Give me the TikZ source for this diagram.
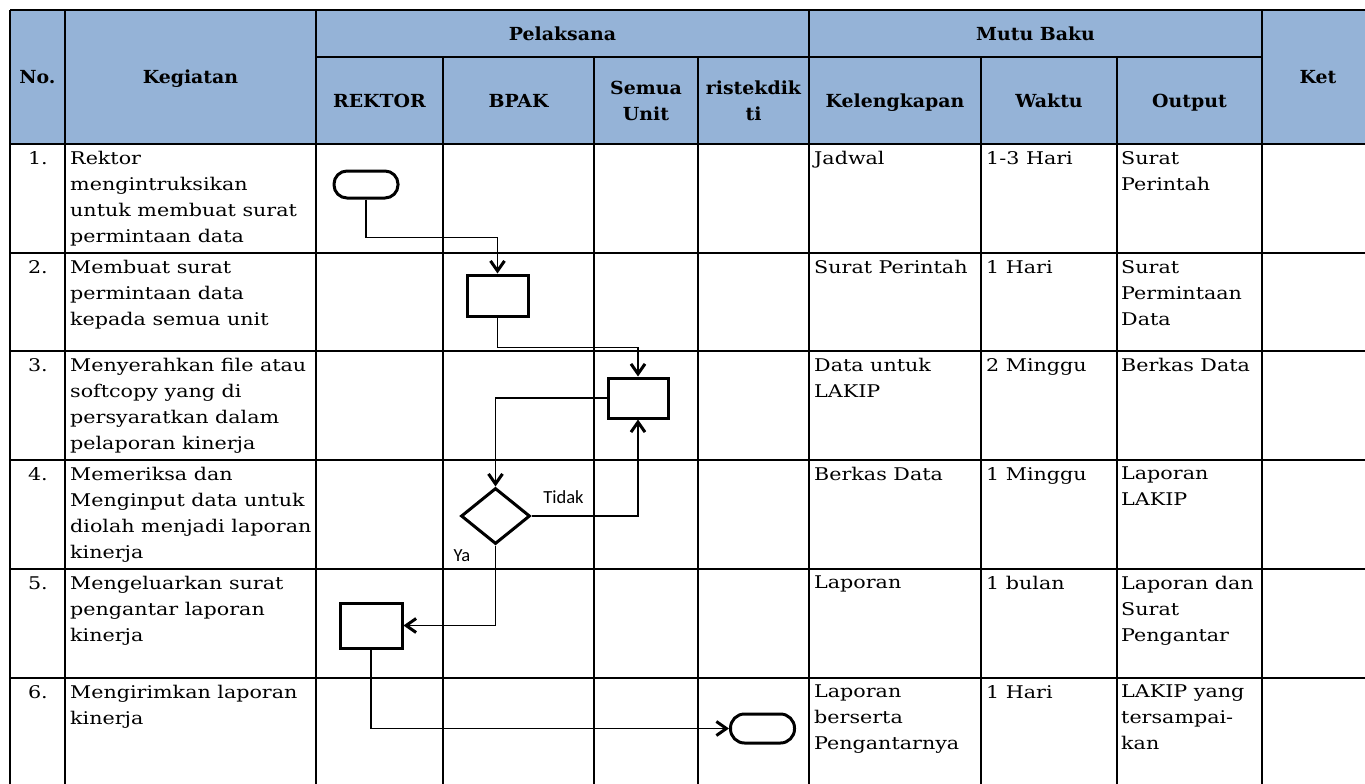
\documentclass[tikz,border=0pt]{standalone}
\usepackage{fontspec}
\setmainfont[FakeStretch=1.18,BoldFeatures={FakeStretch=1.05}]{DejaVu Serif}
\newfontfamily\labelfont{Carlito}
\usetikzlibrary{shapes.geometric,arrows.meta}
\definecolor{headblue}{RGB}{149,179,215}

\begin{document}
\begin{tikzpicture}[x=1pt,y=-1pt,
  grid/.style={line width=1.7pt},
  head/.style={font=\bfseries\fontsize{18}{26}\selectfont,align=center,anchor=base,inner sep=0pt},
  cell/.style={font=\fontsize{17.5}{26}\selectfont,align=left,anchor=north west,inner sep=0pt},
  num/.style={font=\fontsize{17.5}{26}\selectfont,anchor=base east,inner sep=0pt},
  term/.style={draw,line width=3pt,rectangle,rounded corners=13pt,minimum width=64pt,minimum height=27pt,inner sep=0pt},
  act/.style={draw,line width=3pt,rectangle,minimum width=61pt,minimum height=41pt,inner sep=0pt},
  cond/.style={draw,line width=3pt,diamond,minimum width=69pt,minimum height=56pt,inner sep=0pt},
  flow/.style={line width=1.4pt,-{Straight Barb[length=10pt,width=14pt,line width=3pt]}},
  lbl/.style={font=\labelfont\fontsize{18.5}{20}\selectfont,inner sep=0pt}]
\useasboundingbox (0,0) rectangle (1365,784);
\clip (0,0) rectangle (1365,784);

% kepala tabel
\path[fill=headblue] (10,10) rectangle (1380,144);
\path[draw,grid] (10,10) -- (1380,10);
\path[draw,grid] (316,57) -- (1262,57);
\path[draw,grid] (10,144) -- (1380,144);
\path[draw,grid] (10,253) -- (1380,253);
\path[draw,grid] (10,351) -- (1380,351);
\path[draw,grid] (10,460) -- (1380,460);
\path[draw,grid] (10,569) -- (1380,569);
\path[draw,grid] (10,678) -- (1380,678);

\path[draw,grid] (10,10) -- (10,800);
\path[draw,grid] (65,10) -- (65,800);
\path[draw,grid] (316,10) -- (316,800);
\path[draw,grid] (443,57) -- (443,800);
\path[draw,grid] (594,57) -- (594,800);
\path[draw,grid] (698,57) -- (698,800);
\path[draw,grid] (809,10) -- (809,800);
\path[draw,grid] (981,57) -- (981,800);
\path[draw,grid] (1117,57) -- (1117,800);
\path[draw,grid] (1262,10) -- (1262,800);

\node[head] (hno) at (37.5,84) {No.};
\node[head] (hkeg) at (190.5,84) {Kegiatan};
\node[head] (hpel) at (562.5,41) {Pelaksana};
\node[head] (hmutu) at (1035.5,41) {Mutu Baku};
\node[head] (hket) at (1318,84) {Ket};
\node[head] (hrek) at (379.5,107) {REKTOR};
\node[head] (hbpak) at (518.5,107) {BPAK};
\node[head,anchor=north] (hunit) at (646,81) {Semua\\Unit};
\node[head,anchor=north] (hdikti) at (753.5,81) {ristekdik\\ti};
\node[head] (hlengkap) at (895,107) {Kelengkapan};
\node[head] (hwaktu) at (1049,107) {Waktu};
\node[head] (hout) at (1189.5,107) {Output};

% isi baris
\node[num] (n1) at (48,164) {1.};
\node[cell] (k1) at (70,151) {Rektor\\mengintruksikan\\untuk membuat surat\\permintaan data};
\node[cell] (l1) at (814,151) {Jadwal};
\node[cell] (w1) at (986,151) {1-3 Hari};
\node[cell] (o1) at (1121,151) {Surat\\Perintah};

\node[num] (n2) at (48,273) {2.};
\node[cell] (k2) at (70,260) {Membuat surat\\permintaan data\\kepada semua unit};
\node[cell] (l2) at (814,260) {Surat Perintah};
\node[cell] (w2) at (986,260) {1 Hari};
\node[cell] (o2) at (1121,260) {Surat\\Permintaan\\Data};

\node[num] (n3) at (48,371) {3.};
\node[cell] (k3) at (70,358) {Menyerahkan file atau\\softcopy yang di\\persyaratkan dalam\\pelaporan kinerja};
\node[cell] (l3) at (814,358) {Data untuk\\LAKIP};
\node[cell] (w3) at (986,358) {2 Minggu};
\node[cell] (o3) at (1121,358) {Berkas Data};

\node[num] (n4) at (48,480) {4.};
\node[cell] (k4) at (70,467) {Memeriksa dan\\Menginput data untuk\\diolah menjadi laporan\\kinerja};
\node[cell] (l4) at (814,467) {Berkas Data};
\node[cell] (w4) at (986,467) {1 Minggu};
\node[cell] (o4) at (1121,467) {Laporan\\LAKIP};

\node[num] (n5) at (48,589) {5.};
\node[cell] (k5) at (70,576) {Mengeluarkan surat\\pengantar laporan\\kinerja};
\node[cell] (l5) at (814,576) {Laporan};
\node[cell] (w5) at (986,576) {1 bulan};
\node[cell] (o5) at (1121,576) {Laporan dan\\Surat\\Pengantar};

\node[num] (n6) at (48,698) {6.};
\node[cell] (k6) at (70,685) {Mengirimkan laporan\\kinerja};
\node[cell] (l6) at (814,685) {Laporan\\berserta\\Pengantarnya};
\node[cell] (w6) at (986,685) {1 Hari};
\node[cell] (o6) at (1121,685) {LAKIP yang\\tersampai-\\kan};

% alur
\node[term] (mulai) at (366,184.5) {};
\node[act] (buat) at (497.5,295.5) {};
\node[act,minimum width=60pt,minimum height=40pt] (serah) at (638,398) {};
\node[cond] (cek) at (495.5,516) {};
\node[act,minimum width=62pt,minimum height=45pt] (keluar) at (371,625.5) {};
\node[term,minimum height=29pt,rounded corners=14pt] (selesai) at (762.5,728.5) {};

\draw[flow] (mulai.south) -- ++(0,38) -| (buat.north);
\draw[flow] (buat.south) -- ++(0,30) -| (serah.north);
\draw[flow] (serah.west) -| (cek.north);
\draw[flow] (cek.east) -| (serah.south);
\draw[flow] (cek.south) |- (keluar.east);
\draw[flow] (keluar.south) |- (selesai.west);

\node[lbl] (tidak) at (563.5,497) {Tidak};
\node[lbl] (ya) at (462,556) {Ya};
\end{tikzpicture}
\end{document}
